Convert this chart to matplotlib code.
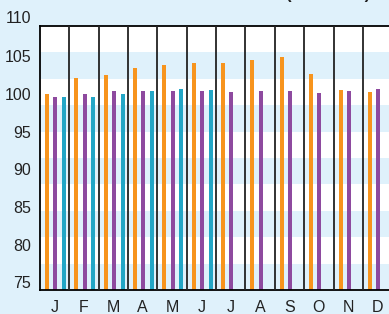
import numpy as np
import matplotlib
matplotlib.use('Agg')
import matplotlib.pyplot as plt

# Data
months = ['J', 'F', 'M', 'A', 'M', 'J', 'J', 'A', 'S', 'O', 'N', 'D']
series_orange = [100.0, 102.1, 102.5, 103.4, 103.8, 104.1, 104.1, 104.5, 104.9, 102.6, 100.5, 100.2]
series_purple = [99.6, 100.0, 100.4, 100.4, 100.4, 100.4, 100.2, 100.4, 100.4, 100.1, 100.4, 100.7]
series_teal = [99.6, 99.6, 100.0, 100.4, 100.6, 100.5]
yticks = [75, 80, 85, 90, 95, 100, 105]

BG = '#dff1fb'
ORANGE = '#f7941d'
PURPLE = '#8e4a9f'
TEAL = '#23a6c6'

plt.rcParams['font.family'] = ['Liberation Sans', 'DejaVu Sans']

fig = plt.figure(figsize=(3.89, 3.14), dpi=100)
fig.patch.set_facecolor(BG)
W, H = 389, 314
ax = fig.add_axes([40 / W, 24 / H, 352.2 / W, 264 / H])
ax.set_facecolor('white')

ylo, yhi = 74, 109
ax.set_ylim(ylo, yhi)
ax.set_xlim(0, 12)

# alternating bands, 10 equal strips, bottom one blue
edges = np.linspace(ylo, yhi, 11)
for k in range(0, 10, 2):
	ax.axhspan(edges[k], edges[k + 1], color=BG, lw=0, zorder=0)

x = np.arange(len(months))
w = 0.136
ax.bar(x + 0.24, series_orange, w, color=ORANGE, zorder=2)
ax.bar(x + 0.52, series_purple, w, color=PURPLE, zorder=2)
ax.bar(np.arange(len(series_teal)) + 0.815, series_teal, w, color=TEAL, zorder=2)

# month separators
for i in range(1, 13):
	ax.axvline(i, color='#222222', lw=1.3, zorder=3)

for s in ['left', 'bottom', 'top']:
	ax.spines[s].set_color('black')
	ax.spines[s].set_linewidth(1.3)
ax.spines['right'].set_visible(False)

ax.set_yticks(yticks)
ax.set_yticklabels([str(v) for v in yticks])
ax.set_xticks(x + 0.5)
ax.set_xticklabels(months)
ax.tick_params(axis='y', length=0, pad=6.5, labelsize=11.5, labelcolor='#222222')
ax.tick_params(axis='x', length=0, pad=7.5, labelsize=11.5, labelcolor='#222222')

# the 110 label sits above the plot area
trans = matplotlib.transforms.blended_transform_factory(fig.transFigure, ax.transData)
ax.text(31 / W, 110, '110', ha='right', va='center', fontsize=11.5, color='#222222',
		clip_on=False, transform=trans)

# title cut off at the top of the picture
fig.text(285 / W, 1 + 0.7 / H, '(2010=100)', ha='left', va='baseline',
		 fontsize=12, fontweight='bold', color='#222222')

fig.savefig('out.png', dpi=100, facecolor=BG)
